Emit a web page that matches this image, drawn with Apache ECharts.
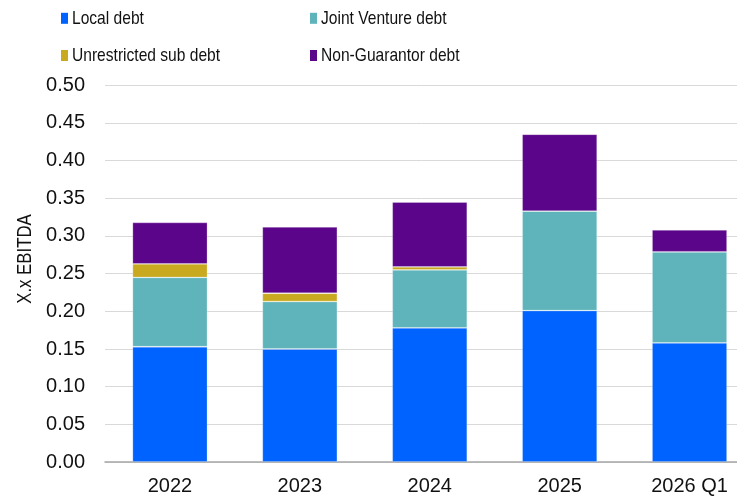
<!DOCTYPE html>
<html>
<head>
<meta charset="utf-8">
<script src="https://cdn.jsdelivr.net/npm/echarts@6/dist/echarts.min.js"></script>
<style>
  html, body { margin: 0; padding: 0; background: #ffffff; }
  #chart { width: 737px; height: 498px; }
</style>
</head>
<body>
<div id="chart"></div>
<script>
// Leverage components stacked per period, in turns of EBITDA
const categories = ['2022', '2023', '2024', '2025', '2026 Q1'];
const localDebt = [0.153, 0.150, 0.178, 0.201, 0.158];
const jointVentureDebt = [0.092, 0.063, 0.077, 0.132, 0.121];
const unrestrictedSubDebt = [0.018, 0.011, 0.004, 0, 0];
const nonGuarantorDebt = [0.055, 0.088, 0.086, 0.102, 0.029];
const yTicks = { min: 0, max: 0.5, interval: 0.05 };
const yAxisTitle = 'X.x EBITDA';

const seriesDefs = [
  { name: 'Local debt', data: localDebt, color: '#0062FF' },
  { name: 'Joint Venture debt', data: jointVentureDebt, color: '#5FB4BC' },
  { name: 'Unrestricted sub debt', data: unrestrictedSubDebt, color: '#C8A91F' },
  { name: 'Non-Guarantor debt', data: nonGuarantorDebt, color: '#5B068A' }
];

const mainFont = '"Liberation Sans", Arial, sans-serif';
// condensed look for the key and the axis title
const squeeze = 0.82;

// key laid out as a 2x2 block: swatch + label per entry
const keySpots = [
  { x: 61, y: 18.3 },
  { x: 310, y: 18.3 },
  { x: 61, y: 55.5 },
  { x: 310, y: 55.5 }
];

const keyGraphics = [];
seriesDefs.forEach((s, i) => {
  const p = keySpots[i];
  keyGraphics.push({
    type: 'rect',
    shape: { x: p.x, y: p.y - 5.5, width: 7, height: 11 },
    style: { fill: s.color },
    silent: true
  });
  keyGraphics.push({
    type: 'text',
    x: p.x + 11,
    y: p.y,
    scaleX: squeeze,
    style: {
      text: s.name,
      fontSize: 19,
      fontFamily: mainFont,
      fill: '#111',
      align: 'left',
      verticalAlign: 'middle'
    },
    silent: true
  });
});

keyGraphics.push({
  type: 'text',
  x: 25,
  y: 259,
  rotation: Math.PI / 2,
  scaleX: squeeze,
  style: {
    text: yAxisTitle,
    fontSize: 20.5,
    fontFamily: mainFont,
    fill: '#111',
    align: 'center',
    verticalAlign: 'middle'
  },
  silent: true
});

const chart = echarts.init(document.getElementById('chart'), null, { renderer: 'canvas' });

chart.setOption({
  animation: false,
  backgroundColor: '#ffffff',
  textStyle: { fontFamily: mainFont },
  graphic: keyGraphics,
  grid: {
    left: 105,
    right: -17.5,
    top: 85.3,
    bottom: 36,
    containLabel: false,
    outerBoundsMode: 'none'
  },
  xAxis: {
    type: 'category',
    data: categories,
    axisLine: { show: true, lineStyle: { color: '#a6a6a6', width: 1.5 } },
    axisTick: { show: false },
    axisLabel: { color: '#111', fontSize: 20, margin: 14, fontFamily: mainFont }
  },
  yAxis: {
    type: 'value',
    min: yTicks.min,
    max: yTicks.max,
    interval: yTicks.interval,
    axisLine: { show: false },
    axisTick: { show: false },
    splitLine: { lineStyle: { color: '#d9d9d9', width: 1 } },
    axisLabel: {
      color: '#111',
      fontSize: 20,
      margin: 20,
      fontFamily: mainFont,
      formatter: v => v.toFixed(2)
    }
  },
  series: seriesDefs.map(s => ({
    name: s.name,
    type: 'bar',
    stack: 'debt',
    data: s.data,
    barWidth: 75,
    itemStyle: { color: s.color, borderColor: 'rgba(255,255,255,0.3)', borderWidth: 0.8 },
    emphasis: { disabled: true }
  }))
});
</script>
</body>
</html>
